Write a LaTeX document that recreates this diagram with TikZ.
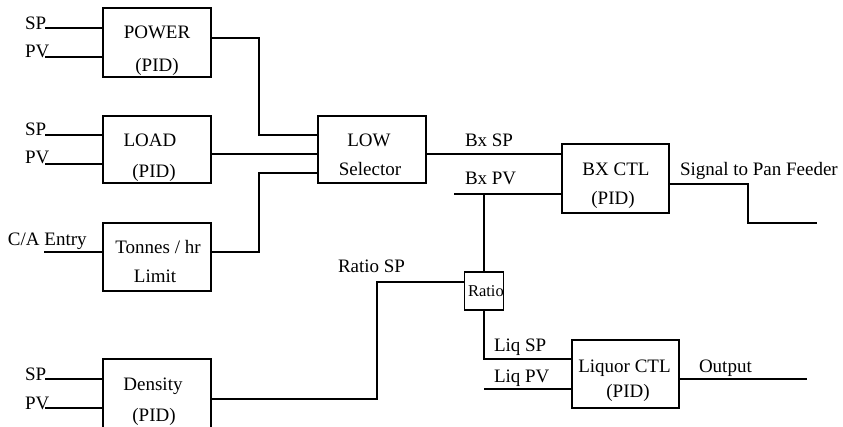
\documentclass[tikz,border=0pt]{standalone}
\usepackage{fontspec}
\setmainfont{Liberation Serif}
\begin{document}
\begin{tikzpicture}[x=1pt,y=-1pt,
  box/.style={draw, line width=1.2pt, inner sep=0pt, outer sep=0pt},
  wire/.style={line width=1.2pt},
  txt/.style={inner sep=0pt, outer sep=0pt, anchor=base, font=\fontsize{19}{23}\selectfont},
  txtw/.style={txt, anchor=base west},
]
\clip (0,0) rectangle (843,427);
% boxes
\node[box, minimum width=108pt, minimum height=69pt] (power) at (157,42.5) {};
\node[box, minimum width=108pt, minimum height=67pt] (load) at (157,149.5) {};
\node[box, minimum width=108pt, minimum height=68pt] (tonnes) at (157,257) {};
\node[box, minimum width=108pt, minimum height=73pt] (density) at (157,395.5) {};
\node[box, minimum width=108pt, minimum height=67pt] (low) at (372,149.5) {};
\node[box, minimum width=107pt, minimum height=69pt] (bx) at (615.5,178.5) {};
\node[box, minimum width=39pt, minimum height=38pt] (ratio) at (484,291) {};
\node[box, minimum width=107pt, minimum height=68pt] (liquor) at (625.5,374) {};

% box texts
\node[txt] (tpow) at (157,39) {POWER};
\node[txt] (tpow2) at (157,71.5) {(PID)};
\node[txt] (tload) at (150,147) {LOAD};
\node[txt] (tload2) at (154,177.5) {(PID)};
\node[txt] (tton) at (158,254) {Tonnes / hr};
\node[txt] (tton2) at (155,283) {Limit};
\node[txt] (tden) at (153,390) {Density};
\node[txt] (tden2) at (154,421) {(PID)};
\node[txt] (tlow) at (369,147) {LOW};
\node[txt] (tlow2) at (370,176) {Selector};
\node[txt] (tbx) at (616,176) {BX CTL};
\node[txt] (tbx2) at (613,205) {(PID)};
\node[txt] (tliq) at (624.5,372) {Liquor CTL};
\node[txt] (tliq2) at (628,397) {(PID)};
\begin{scope}
  \clip (ratio.north west) rectangle (ratio.south east);
  \node[txtw, font=\fontsize{16.5}{20}\selectfont] (tratio) at (468,297) {Ratio};
\end{scope}

% signal labels
\node[txtw] (lsp1) at (25,30) {SP};
\node[txtw] (lpv1) at (25,57.5) {PV};
\node[txtw] (lsp2) at (25,136) {SP};
\node[txtw] (lpv2) at (25,164) {PV};
\node[txtw] (lca) at (8,246) {C/A Entry};
\node[txtw] (lsp3) at (25,380.5) {SP};
\node[txtw] (lpv3) at (25,409) {PV};
\node[txtw] (lrsp) at (338,273) {Ratio SP};
\node[txtw] (lbxsp) at (465,147) {Bx SP};
\node[txtw] (lbxpv) at (465,185) {Bx PV};
\node[txtw] (lsig) at (680,176) {Signal to Pan Feeder};
\node[txtw] (lliqsp) at (494,352) {Liq SP};
\node[txtw] (lliqpv) at (494,382) {Liq PV};
\node[txtw] (lout) at (699,372) {Output};

% input wires
\coordinate (sp1) at (45,28);
\coordinate (pv1) at (45,57);
\coordinate (sp2) at (45,135);
\coordinate (pv2) at (45,164);
\coordinate (ca) at (44,252);
\coordinate (sp3) at (45,379);
\coordinate (pv3) at (45,408);
\draw[wire] (sp1) -- (sp1 -| power.west);
\draw[wire] (pv1) -- (pv1 -| power.west);
\draw[wire] (sp2) -- (sp2 -| load.west);
\draw[wire] (pv2) -- (pv2 -| load.west);
\draw[wire] (ca) -- (ca -| tonnes.west);
\draw[wire] (sp3) -- (sp3 -| density.west);
\draw[wire] (pv3) -- (pv3 -| density.west);

% connectors
\coordinate (a1) at (259,38);
\coordinate (a2) at (259,135);
\draw[wire] (power.east |- a1) -- (a1) -- (a2) -- (a2 -| low.west);
\coordinate (b1) at (260,154);
\draw[wire] (load.east |- b1) -- (b1 -| low.west);
\coordinate (c1) at (259,252);
\coordinate (c2) at (259,173);
\draw[wire] (tonnes.east |- c1) -- (c1) -- (c2) -- (c2 -| low.west);
\draw[wire] (low.east |- b1) -- (b1 -| bx.west);
\coordinate (bxpv) at (454,194);
\draw[wire] (bxpv) -- (bxpv -| bx.west);
\draw[wire] (ratio.north) -- (ratio.north |- bxpv);
\coordinate (d1) at (377,399);
\coordinate (d2) at (377,282);
\draw[wire] (density.east |- d1) -- (d1) -- (d2) -- (d2 -| ratio.west);
\coordinate (e1) at (484,359);
\draw[wire] (ratio.south) -- (e1) -- (e1 -| liquor.west);
\coordinate (liqpv) at (484,389);
\draw[wire] (liqpv) -- (liqpv -| liquor.west);
\coordinate (f1) at (748,184);
\coordinate (f2) at (748,223);
\coordinate (feed) at (817,223);
\draw[wire] (bx.east |- f1) -- (f1) -- (f2) -- (feed);
\coordinate (out) at (807,379);
\draw[wire] (liquor.east |- out) -- (out);
\end{tikzpicture}
\end{document}
